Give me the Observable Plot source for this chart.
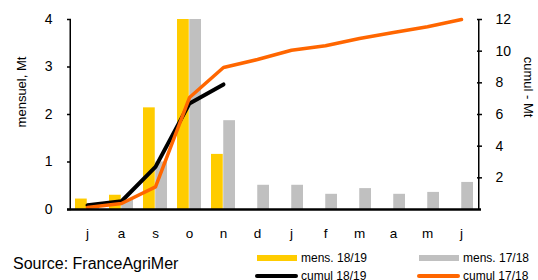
<!DOCTYPE html>
<html>
<head>
<meta charset="utf-8">
<script src="https://cdn.jsdelivr.net/npm/d3@7"></script>
<script src="https://cdn.jsdelivr.net/npm/@observablehq/plot@0.6"></script>
<style>
  html, body { margin: 0; padding: 0; background: #fff; }
  body { font-family: "Liberation Sans", Arial, sans-serif; color: #000; }
  #wrap { position: relative; width: 538px; height: 280px; overflow: hidden; }
  .abs { position: absolute; white-space: nowrap; }
  .rot { transform: translate(-50%, -50%) rotate(-90deg); font-size: 13px; }
  .rot2 { transform: translate(-50%, -50%) rotate(90deg); font-size: 13px; }
  .leg { font-size: 12px; line-height: 12px; transform: translateY(-50%); }
  .sw { position: absolute; }
</style>
</head>
<body>
<div id="wrap"></div>
<script>
// ---- data ----
const months = ["j", "a", "s", "o", "n", "d", "j", "f", "m", "a", "m", "j"];
const mens1819 = [0.22, 0.30, 2.14, 4.0, 1.16, null, null, null, null, null, null, null];
const mens1718 = [0.12, 0.20, 1.0, 5.64, 1.87, 0.51, 0.51, 0.32, 0.44, 0.32, 0.36, 0.57];
const cumul1819 = [0.27, 0.52, 2.69, 6.7, 7.9];
const cumul1718 = [0.12, 0.38, 1.43, 7.07, 8.97, 9.47, 10.06, 10.34, 10.8, 11.18, 11.54, 12.0];
const leftTicks = [0, 1, 2, 3, 4];
const rightTicks = [2, 4, 6, 8, 10, 12];
const legendItems = [
  {label: "mens. 18/19", color: "#FFCC00", kind: "bar"},
  {label: "mens. 17/18", color: "#C0C0C0", kind: "bar"},
  {label: "cumul 18/19", color: "#000000", kind: "line"},
  {label: "cumul 17/18", color: "#FF6600", kind: "line"}
];
const source = "Source: FranceAgriMer";
const leftTitle = "mensuel, Mt";
const rightTitle = "cumul - Mt";

// ---- layout ----
const W = 538, H = 245;
const mL = 67, mR = 57, mT = 19, mB = 36;
const bw = (W - mL - mR) / months.length;
const ratio = 3; // right axis max 12 vs left axis max 4

const idx = d3.range(months.length);
const bars1819 = idx.filter(i => mens1819[i] != null).map(i => ({i, v: mens1819[i]}));
const bars1718 = idx.map(i => ({i, v: mens1718[i]}));
const line1819 = cumul1819.map((v, i) => ({i, v: v / ratio}));
const line1718 = cumul1718.map((v, i) => ({i, v: v / ratio}));

const chart = Plot.plot({
  width: W, height: H,
  marginLeft: mL, marginRight: mR, marginTop: mT, marginBottom: mB,
  style: {fontFamily: "'Liberation Sans', Arial, sans-serif", fontSize: "13.5px", color: "#000", background: "transparent"},
  x: {type: "band", domain: idx, padding: 0},
  y: {domain: [0, 4]},
  marks: [
    Plot.barY(bars1819, {x: "i", y: "v", fill: "#FFCC00", insetLeft: 5, insetRight: bw / 2, clip: true}),
    Plot.barY(bars1718, {x: "i", y: "v", fill: "#C0C0C0", insetLeft: bw / 2, insetRight: 5, clip: true}),
    Plot.line(line1819, {x: "i", y: "v", stroke: "#000", strokeWidth: 4, strokeLinejoin: "round"}),
    Plot.line(line1718, {x: "i", y: "v", stroke: "#FF6600", strokeWidth: 3.5, strokeLinejoin: "round"}),
    Plot.ruleX([0], {dx: -bw / 2, stroke: "#000", strokeWidth: 1.5}),
    Plot.ruleX([months.length - 1], {dx: bw / 2, stroke: "#000", strokeWidth: 1.5}),
    Plot.ruleY([0], {stroke: "#000", strokeWidth: 2.5}),
    Plot.axisX({tickSize: 0, tickPadding: 19, tickFormat: i => months[i], label: null}),
    Plot.axisY({anchor: "left", ticks: leftTicks, tickFormat: d3.format("d"), tickSize: -4, tickPadding: 19, strokeWidth: 1.5, fontSize: 14, label: null}),
    Plot.axisY({anchor: "right", ticks: rightTicks.map(v => v / ratio), tickFormat: d => Math.round(d * ratio), tickSize: -5, tickPadding: 19, strokeWidth: 1.5, fontSize: 14, label: null})
  ]
});

const wrap = document.getElementById("wrap");
wrap.appendChild(chart);

function addDiv(cls, text, left, top, extra) {
  const d = document.createElement("div");
  d.className = "abs " + cls;
  d.textContent = text;
  d.style.left = left + "px";
  d.style.top = top + "px";
  if (extra) Object.assign(d.style, extra);
  wrap.appendChild(d);
  return d;
}
addDiv("rot", leftTitle, 21, 92);
addDiv("rot2", rightTitle, 528, 87);
addDiv("", source, 13, 264, {fontSize: "16px", transform: "translateY(-50%)", lineHeight: "16px"});

const legPos = [
  {x: 257, y: 258}, {x: 419, y: 258}, {x: 257, y: 276}, {x: 419, y: 276}
];
legendItems.forEach((it, k) => {
  const p = legPos[k];
  const sw = document.createElement("div");
  sw.className = "sw";
  if (it.kind === "bar") {
    Object.assign(sw.style, {left: p.x + "px", top: (p.y - 3) + "px", width: "40px", height: "6px", background: it.color});
  } else {
    Object.assign(sw.style, {left: (p.x - 2) + "px", top: (p.y - 2) + "px", width: "43px", height: "4px", background: it.color, borderRadius: "2px"});
  }
  wrap.appendChild(sw);
  addDiv("leg", it.label, p.x + 44, p.y);
});
</script>
</body>
</html>
